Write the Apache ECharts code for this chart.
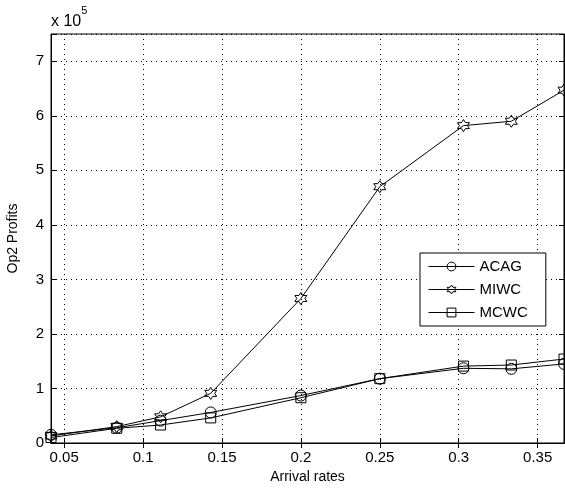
<!DOCTYPE html>
<html>
<head>
<meta charset="utf-8">
<script src="https://cdn.jsdelivr.net/npm/echarts@6/dist/echarts.min.js"></script>
<style>
  html, body { margin: 0; padding: 0; background: #fff; }
  #chart { width: 565px; height: 490px; }
</style>
</head>
<body>
<div id="chart"></div>
<script>
// arrival rates (x) and profits in units of 1e5
var rates = [1 / 24, 1 / 12, 1 / 9, 1 / 7, 0.2, 0.25, 0.303, 1 / 3, 0.3667];
var acag = [0.15, 0.28, 0.41, 0.56, 0.87, 1.18, 1.37, 1.36, 1.45];
var miwc = [0.13, 0.30, 0.48, 0.91, 2.65, 4.70, 5.82, 5.90, 6.47];
var mcwc = [0.10, 0.27, 0.33, 0.46, 0.83, 1.18, 1.41, 1.43, 1.54];
var xTicks = [0.05, 0.1, 0.15, 0.2, 0.25, 0.3, 0.35];
var yTicks = [0, 1, 2, 3, 4, 5, 6, 7];

var font = 'Liberation Sans, Arial, Helvetica, sans-serif';
var hexagram = 'path://M0,-10 L2.887,-5 L8.66,-5 L5.774,0 L8.66,5 L2.887,5 L0,10 L-2.887,5 L-8.66,5 L-5.774,0 L-8.66,-5 L-2.887,-5 Z';

function pairs(ys) {
    return rates.map(function (x, i) { return [x, ys[i]]; });
}

function mkSeries(name, ys, symbol, size) {
    return {
        name: name,
        type: 'line',
        data: pairs(ys),
        symbol: symbol,
        symbolSize: size,
        showAllSymbol: true,
        lineStyle: { color: '#000', width: 1 },
        itemStyle: { color: 'rgba(0,0,0,0)', borderColor: '#000', borderWidth: 1 },
        emphasis: { disabled: true },
        animation: false
    };
}

var chart = echarts.init(document.getElementById('chart'));
var dotted = { show: true, lineStyle: { color: '#000', width: 1, type: [1, 4] } };
chart.setOption({
    backgroundColor: '#fff',
    grid: { left: 51, right: 1, top: 34, bottom: 47, outerBoundsMode: 'none', containLabel: false,
        show: true, borderColor: '#000', borderWidth: 1 },
    legend: {
        orient: 'vertical',
        left: 420,
        top: 253,
        width: 123,
        padding: [6, 18, 6, 8],
        itemGap: 8,
        itemWidth: 46,
        itemHeight: 11,
        backgroundColor: '#fff',
        borderColor: '#000',
        borderWidth: 1,
        lineStyle: { width: 1 },
        itemStyle: { borderWidth: 1 },
        textStyle: { fontFamily: font, fontSize: 15, color: '#000' },
        data: ['ACAG', 'MIWC', 'MCWC']
    },
    xAxis: [{
        type: 'value',
        min: rates[0],
        max: rates[rates.length - 1],
        name: 'Arrival rates',
        nameLocation: 'middle',
        nameGap: 27,
        nameTextStyle: { fontFamily: font, fontSize: 14, color: '#000' },
        axisLine: { lineStyle: { color: '#000' } },
        axisTick: { inside: true, length: 5, customValues: xTicks, lineStyle: { color: '#000' } },
        axisLabel: { customValues: xTicks, fontFamily: font, fontSize: 15, color: '#000', margin: 7 },
        splitLine: dotted
    }, {
        type: 'value',
        position: 'top',
        min: rates[0],
        max: rates[rates.length - 1],
        axisLine: { lineStyle: { color: '#000' } },
        axisTick: { inside: true, length: 5, customValues: xTicks, lineStyle: { color: '#000' } },
        axisLabel: { show: false },
        splitLine: { show: false }
    }],
    yAxis: [{
        type: 'value',
        min: 0,
        max: 7.5,
        interval: 1,
        name: 'Op2 Profits',
        nameLocation: 'middle',
        nameGap: 31,
        nameTextStyle: { fontFamily: font, fontSize: 14, color: '#000' },
        axisLine: { show: true, lineStyle: { color: '#000' } },
        axisTick: { show: true, inside: true, length: 5, lineStyle: { color: '#000' } },
        axisLabel: { fontFamily: font, fontSize: 15, color: '#000', margin: 7,
            formatter: function (v) { return yTicks.indexOf(v) >= 0 ? String(v) : ''; } },
        splitLine: dotted
    }, {
        type: 'value',
        position: 'right',
        min: 0,
        max: 7.5,
        interval: 1,
        axisLine: { show: true, lineStyle: { color: '#000' } },
        axisTick: { show: true, inside: true, length: 5, lineStyle: { color: '#000' } },
        axisLabel: { show: false },
        splitLine: { show: false }
    }],
    graphic: [{
        type: 'text',
        left: 51,
        top: 5,
        style: {
            text: '{b|x 10}{s|5}',
            rich: {
                b: { fontFamily: font, fontSize: 16, color: '#000', padding: [9, 0, 0, 0] },
                s: { fontFamily: font, fontSize: 11, color: '#000', verticalAlign: 'top' }
            }
        }
    }],
    series: [
        mkSeries('ACAG', acag, 'circle', 11),
        mkSeries('MIWC', miwc, hexagram, 12),
        mkSeries('MCWC', mcwc, 'rect', 10)
    ]
});
</script>
</body>
</html>
